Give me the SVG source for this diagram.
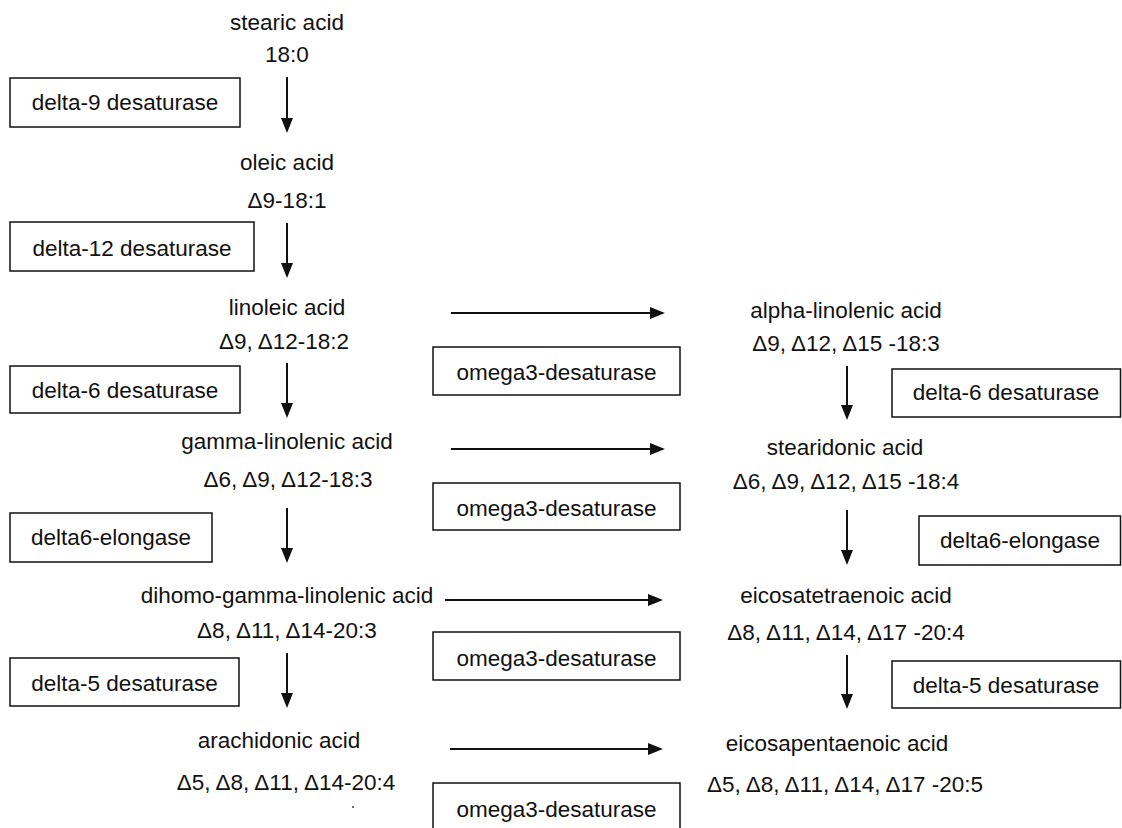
<svg xmlns="http://www.w3.org/2000/svg" width="1122" height="828" viewBox="0 0 1122 828">
  <style>
    text { font-family: "Liberation Sans", Arial, sans-serif; font-size: 22.5px; fill: #111; text-anchor: middle; }
    .box { fill: #fff; stroke: #111; stroke-width: 1.5; }
    .conn line { stroke: #111; stroke-width: 2; }
  </style>
  <defs>
    <marker id="head" markerUnits="userSpaceOnUse" markerWidth="16" markerHeight="12" refX="0" refY="6" orient="auto">
      <path d="M0,0 L15,6 L0,12 z" fill="#111"/>
    </marker>
  </defs>
  <rect width="1122" height="828" fill="#fff"/>

  <!-- omega-6 column (left) -->
  <g id="stearic"><text x="287" y="30">stearic acid</text><text x="287" y="62">18:0</text></g>
  <g id="oleic"><text x="287" y="170">oleic acid</text><text x="287" y="208">Δ9-18:1</text></g>
  <g id="linoleic"><text x="287" y="315">linoleic acid</text><text x="284" y="349">Δ9, Δ12-18:2</text></g>
  <g id="gla"><text x="287" y="449">gamma-linolenic acid</text><text x="288" y="487">Δ6, Δ9, Δ12-18:3</text></g>
  <g id="dgla"><text x="287" y="603">dihomo-gamma-linolenic acid</text><text x="287" y="638">Δ8, Δ11, Δ14-20:3</text></g>
  <g id="arachidonic"><text x="279" y="748">arachidonic acid</text><text x="286" y="790">Δ5, Δ8, Δ11, Δ14-20:4</text></g>

  <!-- omega-3 column (right) -->
  <g id="ala"><text x="846" y="318">alpha-linolenic acid</text><text x="846" y="351">Δ9, Δ12, Δ15 -18:3</text></g>
  <g id="stearidonic"><text x="845" y="455">stearidonic acid</text><text x="846" y="489">Δ6, Δ9, Δ12, Δ15 -18:4</text></g>
  <g id="eta"><text x="846" y="603">eicosatetraenoic acid</text><text x="846" y="640">Δ8, Δ11, Δ14, Δ17 -20:4</text></g>
  <g id="epa"><text x="837" y="751">eicosapentaenoic acid</text><text x="845" y="792">Δ5, Δ8, Δ11, Δ14, Δ17 -20:5</text></g>

  <!-- enzyme labels, left -->
  <g id="enz-d9"><rect class="box" x="10" y="78" width="230" height="49"/><text x="125" y="110">delta-9 desaturase</text></g>
  <g id="enz-d12"><rect class="box" x="10" y="222" width="244" height="49"/><text x="132" y="256">delta-12 desaturase</text></g>
  <g id="enz-d6-left"><rect class="box" x="10" y="366" width="230" height="47"/><text x="125" y="398">delta-6 desaturase</text></g>
  <g id="enz-elo-left"><rect class="box" x="10" y="513" width="202" height="49"/><text x="111" y="545">delta6-elongase</text></g>
  <g id="enz-d5-left"><rect class="box" x="10" y="658" width="229" height="48"/><text x="124.500" y="691">delta-5 desaturase</text></g>

  <!-- enzyme labels, middle -->
  <g id="enz-w3-1"><rect class="box" x="433" y="347" width="247" height="48"/><text x="556.500" y="380">omega3-desaturase</text></g>
  <g id="enz-w3-2"><rect class="box" x="433" y="483" width="247" height="47"/><text x="556.500" y="516">omega3-desaturase</text></g>
  <g id="enz-w3-3"><rect class="box" x="433" y="632" width="247" height="48"/><text x="556.500" y="666">omega3-desaturase</text></g>
  <g id="enz-w3-4"><rect class="box" x="433" y="783" width="247" height="49"/><text x="556.500" y="817">omega3-desaturase</text></g>

  <!-- enzyme labels, right -->
  <g id="enz-d6-right"><rect class="box" x="892" y="369" width="228.500" height="48"/><text x="1006" y="400">delta-6 desaturase</text></g>
  <g id="enz-elo-right"><rect class="box" x="919" y="516" width="201.500" height="49"/><text x="1020" y="548">delta6-elongase</text></g>
  <g id="enz-d5-right"><rect class="box" x="892" y="661" width="228.500" height="47"/><text x="1006" y="693">delta-5 desaturase</text></g>

  <!-- reaction arrows -->
  <g class="conn" id="connectors">
    <line x1="287" y1="77" x2="287" y2="118" marker-end="url(#head)"/>
    <line x1="287" y1="223" x2="287" y2="263" marker-end="url(#head)"/>
    <line x1="287" y1="363" x2="287" y2="403" marker-end="url(#head)"/>
    <line x1="287" y1="508" x2="287" y2="548" marker-end="url(#head)"/>
    <line x1="287" y1="653" x2="287" y2="693" marker-end="url(#head)"/>

    <line x1="847" y1="366" x2="847" y2="405" marker-end="url(#head)"/>
    <line x1="847" y1="510" x2="847" y2="550" marker-end="url(#head)"/>
    <line x1="847" y1="655" x2="847" y2="694" marker-end="url(#head)"/>

    <line x1="451" y1="313" x2="650" y2="313" marker-end="url(#head)"/>
    <line x1="451" y1="449" x2="650" y2="449" marker-end="url(#head)"/>
    <line x1="445" y1="600" x2="648" y2="600" marker-end="url(#head)"/>
    <line x1="450" y1="749" x2="648" y2="749" marker-end="url(#head)"/>
  </g>

  <circle cx="353" cy="807" r="1" fill="#444"/>
</svg>
